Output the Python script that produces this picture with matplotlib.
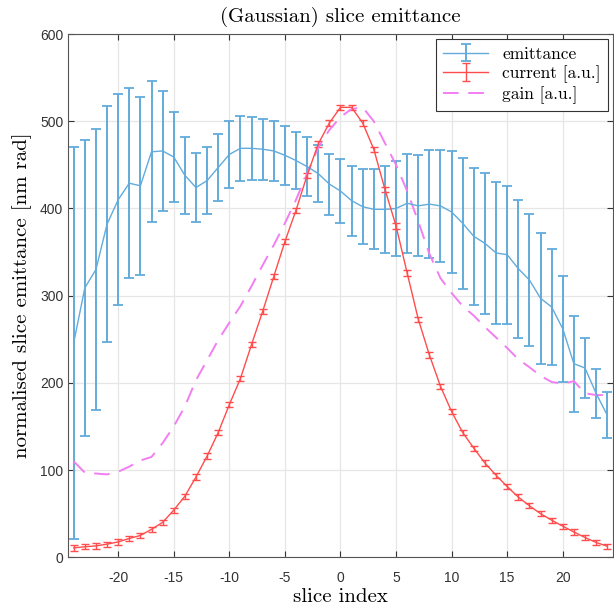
import matplotlib
matplotlib.use("Agg")
import matplotlib.pyplot as plt
import numpy as np

plt.rcParams['axes.unicode_minus'] = False

slice_idx = np.arange(-24, 25)

emittance = [246, 309, 330, 382, 410, 429, 426, 465, 466, 459, 438, 424, 432, 447,
             462, 469, 469, 468, 466, 461, 455, 448, 440, 428, 420, 409, 402, 399,
             399, 400, 406, 403, 405, 403, 396, 383, 368, 360, 349, 347, 331, 318,
             297, 287, 262, 222, 217, 188, 163]
emit_err = [225, 170, 161, 135, 121, 109, 102, 81, 69, 52, 44, 40, 38, 38,
            38, 37, 36, 35, 34, 34, 33, 34, 33, 35, 37, 40, 43, 46,
            50, 54, 57, 58, 62, 64, 70, 75, 79, 81, 81, 79, 79, 76,
            75, 67, 61, 55, 34, 28, 26]

current = [10.7, 12, 13, 15, 17.6, 21.5, 25, 32, 40, 54, 70, 92, 116, 143,
           175, 205, 244, 282, 322, 362, 398, 438, 474, 498, 516, 516, 498, 468,
           422, 380, 326, 273, 232, 196, 167, 143, 125, 108, 94, 81, 69, 59,
           50, 42.5, 35.6, 29, 22.6, 17, 12.6]
current_err = [3] * len(current)

gain = [110, 97, 96, 95, 98, 104, 111, 115, 131, 150, 173, 203, 226, 249,
        269, 288, 311, 335, 358, 383, 410, 440, 470, 490, 505, 514, 516, 500,
        475, 450, 420, 385, 348, 320, 303, 288, 277, 264, 252, 240, 227, 218,
        208, 201, 199, 202, 188, 186, 186]

serif = 'cmr10'

fig = plt.figure(figsize=(6.14, 6.09), dpi=100)
ax = fig.add_axes([0.111, 0.085, 0.887, 0.859])

h1 = ax.errorbar(slice_idx, emittance, yerr=emit_err, color='#62abdc', lw=1.0,
                 elinewidth=1.4, capsize=3.5, capthick=1.3, label='emittance')
h2 = ax.errorbar(slice_idx, current, yerr=current_err, color='#ff4c4c', lw=1.0,
                 elinewidth=1.0, capsize=3, capthick=1.0, label='current [a.u.]')
h3, = ax.plot(slice_idx, gain, color='#f27ef2', lw=1.4, ls=(0, (8, 5)), label='gain [a.u.]')

ax.set_xlim(-24.5, 24.5)
ax.set_ylim(0, 600)
ax.set_xticks(np.arange(-20, 21, 5))
ax.set_yticks(np.arange(0, 601, 100))
ax.grid(True, color='#e6e6e6', lw=0.9)
ax.set_axisbelow(True)
ax.tick_params(direction='in', top=True, right=True, labelsize=10, colors='#333333',
               length=4)
ax.tick_params(axis='x', pad=10)
for lab in ax.get_xticklabels() + ax.get_yticklabels():
    lab.set_family('Liberation Sans')
for s in ax.spines.values():
    s.set_color('#555555')
    s.set_linewidth(0.8)

ax.set_title('(Gaussian) slice emittance', family=serif, fontsize=15, pad=9)
ax.set_xlabel('slice index', family=serif, fontsize=15, labelpad=2)
ax.set_ylabel('normalised slice emittance [nm rad]', family=serif, fontsize=15, labelpad=6)

leg = ax.legend(handles=[h1, h2, h3], loc='upper right', prop={'family': serif, 'size': 12.5},
                fancybox=False, edgecolor='#333333', framealpha=1,
                borderaxespad=0.3, handlelength=2.6, labelspacing=0.2)
leg.get_frame().set_linewidth(0.8)

fig.savefig('out.png', dpi=100)
